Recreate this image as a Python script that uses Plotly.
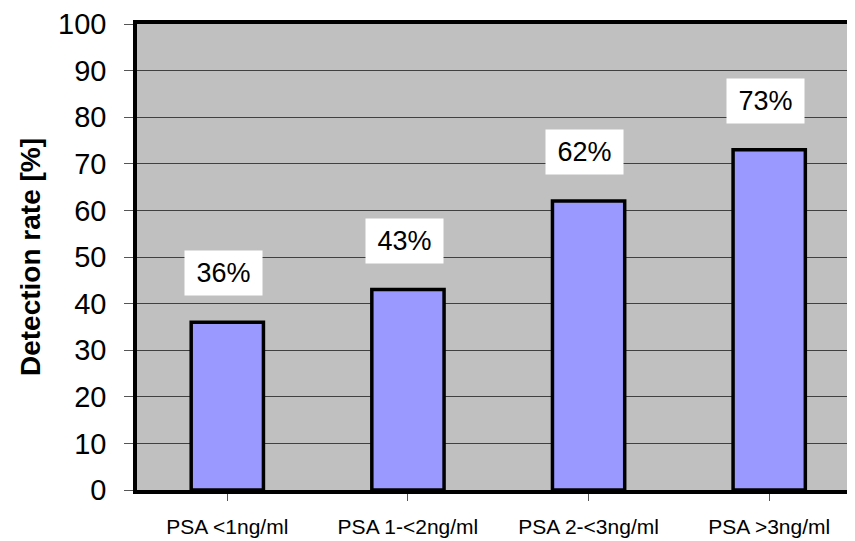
import plotly.graph_objects as go

categories = ["PSA <1ng/ml", "PSA 1-<2ng/ml", "PSA 2-<3ng/ml", "PSA >3ng/ml"]
detection_rate = [36, 43, 62, 73]
value_labels = ["36%", "43%", "62%", "73%"]
y_ticks = [0, 10, 20, 30, 40, 50, 60, 70, 80, 90, 100]

FONT = "Arial, Liberation Sans, Helvetica, sans-serif"

def esc(s):
    return s.replace("<", "&lt;").replace(">", "&gt;")

x_idx = list(range(len(categories)))

fig = go.Figure()
fig.add_trace(go.Bar(
    x=x_idx, y=detection_rate, width=0.4,
    marker=dict(color="#9999ff", line=dict(color="black", width=3.5)),
    hoverinfo="skip",
))

for i, (v, lab) in enumerate(zip(detection_rate, value_labels)):
    fig.add_annotation(
        x=i - 0.02, y=v + 10.5, text=lab, showarrow=False,
        font=dict(family=FONT, size=27, color="black"),
        bgcolor="white", width=73, height=40, borderpad=2,
        xref="x", yref="y",
    )

fig.add_annotation(
    text="<b>Detection rate [%]</b>", textangle=-90, showarrow=False,
    xref="paper", yref="paper", x=0, y=0.5, xanchor="center", yanchor="middle",
    xshift=-107, font=dict(family=FONT, size=28, color="black"),
)

fig.update_layout(
    width=847, height=533,
    margin=dict(l=129, r=0, t=16, b=51),
    paper_bgcolor="white", plot_bgcolor="#c0c0c0",
    showlegend=False,
    font=dict(family=FONT, color="black"),
    bargap=0.6,
)
fig.update_xaxes(
    range=[-0.5, 3.475], automargin=False,
    tickmode="array", tickvals=x_idx, ticktext=[esc(c) for c in categories],
    tickson="boundaries", ticks="outside", ticklen=7, tickcolor="#555555", tickwidth=1,
    tickfont=dict(family=FONT, size=21),
    ticklabelstandoff=8,
    showline=True, linecolor="black", linewidth=3.5, mirror=True,
    showgrid=False, zeroline=False,
)
fig.update_yaxes(
    range=[0, 100], tickvals=y_ticks, automargin=False,
    ticks="outside", ticklen=9, tickcolor="#555555", tickwidth=1,
    tickfont=dict(family=FONT, size=29),
    ticklabelstandoff=12,
    showline=True, linecolor="black", linewidth=3.5, mirror=False,
    showgrid=True, gridcolor="#404040", gridwidth=1,
    zeroline=False,
)

fig.write_html("out.html")
